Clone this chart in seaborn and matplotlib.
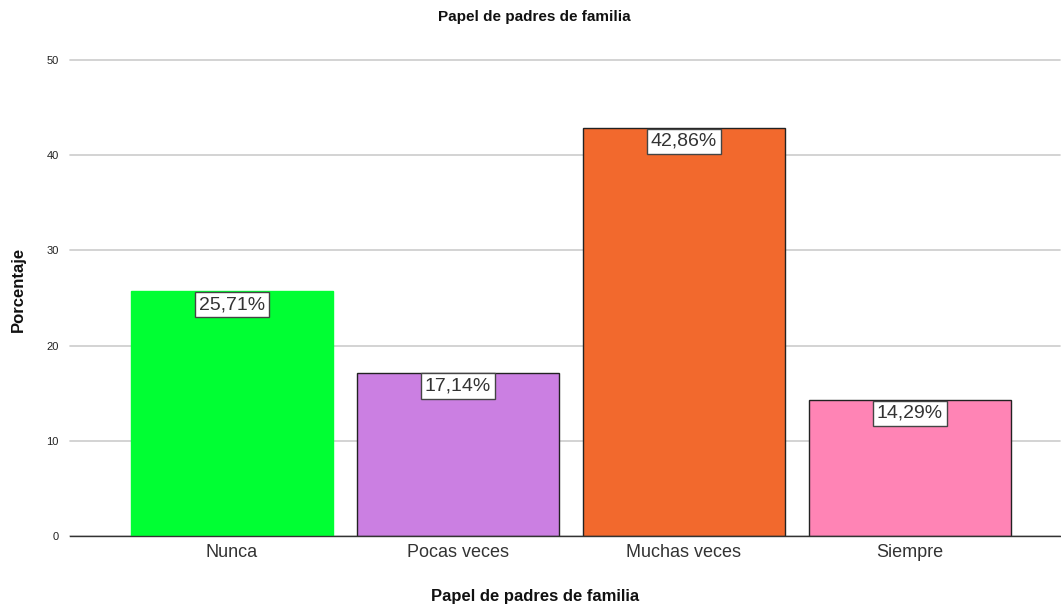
import matplotlib
matplotlib.use("Agg")
import matplotlib.pyplot as plt
import seaborn as sns
import pandas as pd

# Data
categorias = ["Nunca", "Pocas veces", "Muchas veces", "Siempre"]
porcentajes = [25.71, 17.14, 42.86, 14.29]
colores = ["#00FF33", "#CB7FE2", "#F2692D", "#FF84B5"]
bordes = ["#00FF33", "#222222", "#222222", "#222222"]
y_ticks = [0, 10, 20, 30, 40, 50]

df = pd.DataFrame({"cat": categorias, "pct": porcentajes})

sns.set_style("white")
plt.rcParams["font.family"] = ["Liberation Sans", "DejaVu Sans"]

fig = plt.figure(figsize=(10.61, 6.07), dpi=100)
ax = fig.add_axes([0.066, 0.117, 0.933, 0.784])

sns.barplot(data=df, x="cat", y="pct", hue="cat", palette=colores,
            saturation=1, legend=False, width=0.894, ax=ax, zorder=3)

for patch, ec in zip(ax.patches, bordes):
    patch.set_edgecolor(ec)
    patch.set_linewidth(1.0)

# value labels
for i, v in enumerate(porcentajes):
    ax.annotate(f"{v:.2f}%".replace(".", ","), xy=(i, v), xytext=(0, -3.5),
                textcoords="offset points", ha="center", va="top",
                fontsize=14, color="#333333", zorder=5,
                bbox=dict(boxstyle="square,pad=0.22", facecolor="white",
                          edgecolor="#444444", linewidth=1.0))

ax.set_ylim(0, 50)
ax.set_xlim(-0.717, 3.664)
ax.set_yticks(y_ticks)
ax.set_yticklabels([str(t) for t in y_ticks], fontsize=8, color="#222222")
ax.tick_params(axis="y", length=0, pad=8)
ax.tick_params(axis="x", length=0, labelsize=13, colors="#333333", pad=6)
ax.yaxis.grid(True, color="#cccccc", linewidth=1.2, zorder=0)
for gl in ax.get_ygridlines():
    gl.set_clip_on(False)
ax.set_axisbelow(True)

for s in ["top", "right", "left"]:
    ax.spines[s].set_visible(False)
ax.spines["bottom"].set_color("#333333")
ax.spines["bottom"].set_linewidth(1.0)
ax.spines["bottom"].set_zorder(4)

ax.set_xlabel("")
ax.set_ylabel("")
fig.text(0.504, 0.972, "Papel de padres de familia", ha="center", va="center",
         fontsize=11, fontweight="bold", color="#111111")
fig.text(0.504, 0.018, "Papel de padres de familia", ha="center", va="center",
         fontsize=12, fontweight="bold", color="#111111")
fig.text(0.017, 0.523, "Porcentaje", ha="center", va="center", rotation=90,
         fontsize=12, fontweight="bold", color="#111111")

fig.savefig("out.png", dpi=100)
